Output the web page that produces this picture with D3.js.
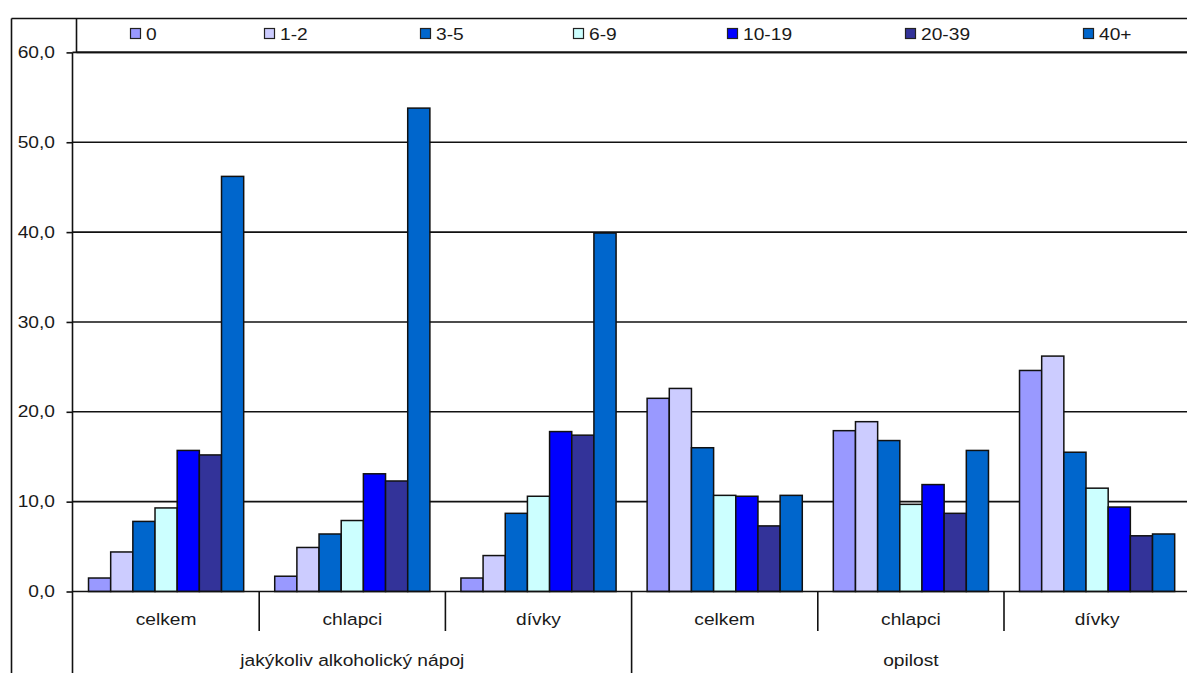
<!DOCTYPE html>
<html>
<head>
<meta charset="utf-8">
<script src="https://d3js.org/d3.v7.min.js"></script>
<style>
  html, body { margin: 0; padding: 0; background: #fff; }
  svg { display: block; }
  text { font-family: "Liberation Sans", Arial, sans-serif; fill: #1a1a1a; }
</style>
</head>
<body>
<svg id="chart" width="1187" height="673"></svg>
<script>
// Frequency categories (legend) and the two-level category axis
const series = ["0", "1-2", "3-5", "6-9", "10-19", "20-39", "40+"];
const subgroups = ["celkem", "chlapci", "dívky"];
const groups = ["jakýkoliv alkoholický nápoj", "opilost"];

// Percentages per frequency category, in order:
// alkohol celkem, chlapci, dívky, opilost celkem, chlapci, dívky
const v0    = [1.5, 1.7, 1.5, 21.5, 17.9, 24.6];
const v1_2  = [4.4, 4.9, 4.0, 22.6, 18.9, 26.2];
const v3_5  = [7.8, 6.4, 8.7, 16.0, 16.8, 15.5];
const v6_9  = [9.3, 7.9, 10.6, 10.7, 9.7, 11.5];
const v10_19 = [15.7, 13.1, 17.8, 10.6, 11.9, 9.4];
const v20_39 = [15.2, 12.3, 17.4, 7.3, 8.7, 6.2];
const v40   = [46.2, 53.8, 39.9, 10.7, 15.7, 6.4];

const yTicks = [0, 10, 20, 30, 40, 50, 60];

const colors = ["#9999ff", "#ccccff", "#0066cc", "#ccffff", "#0000ff", "#333399", "#0066cc"];
const valueRows = [v0, v1_2, v3_5, v6_9, v10_19, v20_39, v40];

// Flattened category list: one entry per (group, subgroup)
const cats = [];
groups.forEach((g, gi) => subgroups.forEach((s, si) => cats.push({ key: gi * 3 + si, group: g, sub: s })));

const svg = d3.select("#chart");
const W = 1187, H = 673;

// Layout
const axisX = 72.5;
const plotLeft = 73;
const groupW = 186.2;
const yZero = 591.5, yTop = 52.4;
const legendTop = 18.5, legendLeft = 76.5;
const frameLeft = 11.5;
const stretch = 1.13;         // labels are drawn horizontally widened
const fontSize = 17;

const y = d3.scaleLinear().domain([0, 60]).range([yZero, yTop]);
const x0 = d3.scaleBand().domain(cats.map(c => c.key)).range([plotLeft, plotLeft + cats.length * groupW]);
const x1 = d3.scaleBand().domain(series).range([0, groupW]).paddingInner(0).paddingOuter(0.7);

const czLocale = d3.formatLocale({ decimal: ",", thousands: " ", grouping: [3], currency: ["", " Kč"] });
const fmt = czLocale.format(".1f");

function stretchedText(sel, x, yy, str, anchor) {
  return sel.append("text")
    .attr("transform", `translate(${x},${yy}) scale(${stretch},1)`)
    .attr("text-anchor", anchor || "middle")
    .attr("dominant-baseline", "central")
    .attr("font-size", fontSize)
    .text(str);
}

// Gridlines
const grid = svg.append("g");
grid.selectAll("line").data(yTicks.filter(t => t > 0)).join("line")
  .attr("x1", axisX).attr("x2", W)
  .attr("y1", d => y(d)).attr("y2", d => y(d))
  .attr("stroke", "#111").attr("stroke-width", 1.6);

// Bars
const bars = svg.append("g");
cats.forEach((c, ci) => {
  const g = bars.append("g").attr("transform", `translate(${x0(c.key)},0)`);
  g.selectAll("rect").data(series.map((s, si) => ({ s, v: valueRows[si][ci], color: colors[si] }))).join("rect")
    .attr("x", d => x1(d.s))
    .attr("width", x1.bandwidth())
    .attr("y", d => y(d.v))
    .attr("height", d => y(0) - y(d.v))
    .attr("fill", d => d.color)
    .attr("stroke", "#111")
    .attr("stroke-width", 1.5);
});

// Y axis
const yAxis = d3.axisLeft(y).tickValues(yTicks).tickFormat(fmt).tickSize(6).tickPadding(4);
const ya = svg.append("g").attr("transform", `translate(${axisX},0)`).call(yAxis);
ya.select(".domain").attr("stroke", "#111").attr("stroke-width", 1.6)
  .attr("d", `M0,${yTop}V${H}`);
ya.selectAll(".tick line").attr("stroke", "#111").attr("stroke-width", 1.6);
ya.selectAll(".tick text").remove();
yTicks.forEach(t => stretchedText(svg, 55, y(t), fmt(t), "end"));

// Zero baseline
svg.append("line").attr("x1", axisX).attr("x2", W).attr("y1", y(0)).attr("y2", y(0))
  .attr("stroke", "#111").attr("stroke-width", 1.6);

// Category axis: subgroup separators and labels
const sepShort = 631, sepLong = H;
cats.forEach((c, ci) => {
  if (ci > 0) {
    const xx = x0(c.key);
    svg.append("line").attr("x1", xx).attr("x2", xx).attr("y1", yZero)
      .attr("y2", ci % 3 === 0 ? sepLong : sepShort)
      .attr("stroke", "#111").attr("stroke-width", 1.6);
  }
  stretchedText(svg, x0(c.key) + groupW / 2, 619, c.sub);
});
groups.forEach((g, gi) => {
  const xs = x0(gi * 3), xe = x0(gi * 3 + 2) + groupW;
  stretchedText(svg, (xs + xe) / 2, 660, g);
});

// Outer frame and legend box
svg.append("line").attr("x1", frameLeft).attr("x2", frameLeft).attr("y1", legendTop).attr("y2", H)
  .attr("stroke", "#111").attr("stroke-width", 1.6);
svg.append("line").attr("x1", frameLeft).attr("x2", W).attr("y1", legendTop).attr("y2", legendTop)
  .attr("stroke", "#111").attr("stroke-width", 1.6);
svg.append("line").attr("x1", legendLeft).attr("x2", legendLeft).attr("y1", legendTop).attr("y2", yTop)
  .attr("stroke", "#111").attr("stroke-width", 1.6);
svg.append("line").attr("x1", legendLeft).attr("x2", W).attr("y1", yTop).attr("y2", yTop)
  .attr("stroke", "#111").attr("stroke-width", 1.6);

// Legend entries
const legendX = [130, 264, 420, 573, 727, 905, 1083];
const legendY = 34;
series.forEach((s, si) => {
  svg.append("rect").attr("x", legendX[si] + 0.5).attr("y", legendY - 5.5)
    .attr("width", 10).attr("height", 10)
    .attr("fill", colors[si]).attr("stroke", "#222").attr("stroke-width", 1.2);
  stretchedText(svg, legendX[si] + 16, legendY, s, "start");
});
</script>
</body>
</html>
